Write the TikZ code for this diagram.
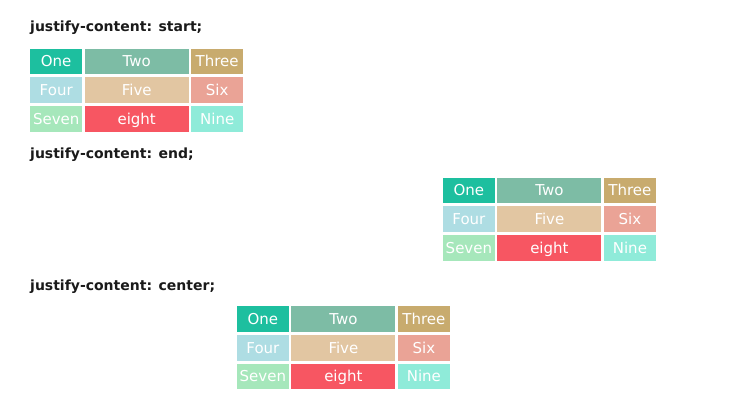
\documentclass[tikz,border=0pt]{standalone}
\usepackage{fontspec}
\setmainfont{DejaVu Sans}
\definecolor{cOne}{HTML}{1DBF9F}
\definecolor{cTwo}{HTML}{7DBCA5}
\definecolor{cThree}{HTML}{C8AB6E}
\definecolor{cFour}{HTML}{AEDDE3}
\definecolor{cFive}{HTML}{E2C6A2}
\definecolor{cSix}{HTML}{EAA396}
\definecolor{cSeven}{HTML}{A6E7BB}
\definecolor{cEight}{HTML}{F75662}
\definecolor{cNine}{HTML}{8FEBD9}
\definecolor{ttl}{HTML}{1A1A1A}
\tikzset{
  cell/.style={anchor=north west, inner sep=0pt, minimum height=25.5pt, text=white,
    font=\fontsize{15}{17}\selectfont, text height=10.8pt, text depth=0pt, fill=#1},
  narrow/.style={minimum width=52pt},
  wide/.style={minimum width=104pt},
  ttlnode/.style={anchor=base west, inner sep=0pt, text=ttl, font=\fontsize{14}{16}\selectfont\bfseries}
}
\newcommand\gridat[3]{%
  \node[cell=cOne,narrow]   (#1a) at (#2,#3) {One};
  \node[cell=cTwo,wide]     (#1b) at (#2+54.5,#3) {Two};
  \node[cell=cThree,narrow] (#1c) at (#2+161,#3) {Three};
  \node[cell=cFour,narrow]  (#1d) at (#2,#3+28.8) {Four};
  \node[cell=cFive,wide]    (#1e) at (#2+54.5,#3+28.8) {Five};
  \node[cell=cSix,narrow]   (#1f) at (#2+161,#3+28.8) {Six};
  \node[cell=cSeven,narrow] (#1g) at (#2,#3+57.6) {Seven};
  \node[cell=cEight,wide]   (#1h) at (#2+54.5,#3+57.6) {eight};
  \node[cell=cNine,narrow]  (#1i) at (#2+161,#3+57.6) {Nine};
}
\begin{document}
\begin{tikzpicture}[x=1pt,y=-1pt]
\useasboundingbox (0,0) rectangle (743,405);
\fill[white] (0,0) rectangle (743,405);
\node[ttlnode] (t1) at (30,31.5) {justify-content: start;};
\gridat{s}{30}{48.3}
\node[ttlnode] (t2) at (30,158) {justify-content: end;};
\gridat{e}{442.7}{177.3}
\node[ttlnode] (t3) at (30,290.5) {justify-content: center;};
\gridat{c}{236.7}{306}
\end{tikzpicture}
\end{document}
